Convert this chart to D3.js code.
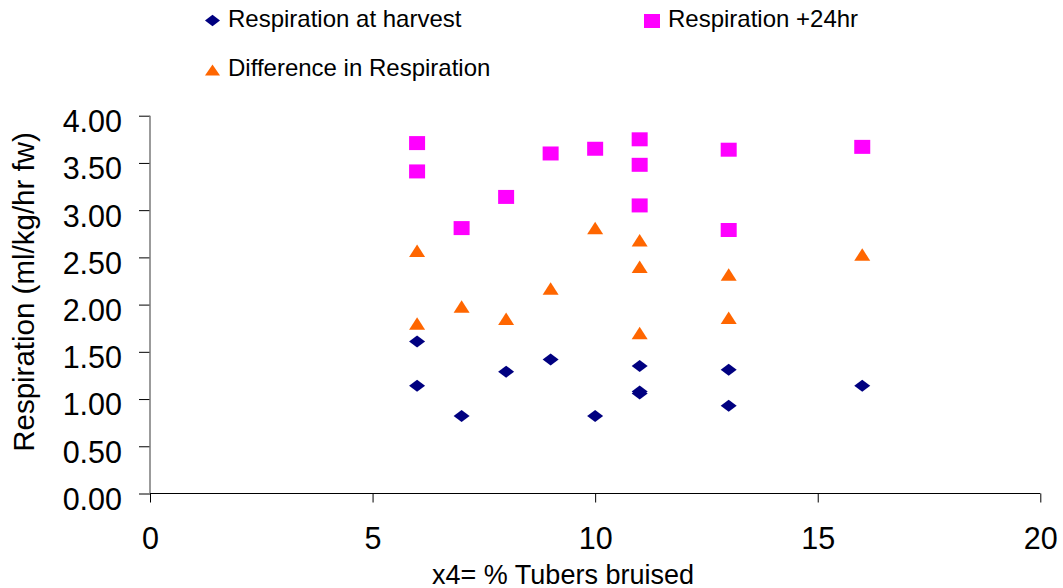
<!DOCTYPE html>
<html>
<head>
<meta charset="utf-8">
<script src="https://cdn.jsdelivr.net/npm/d3@7"></script>
<style>
  html, body { margin: 0; padding: 0; background: #fff; }
  svg { display: block; font-family: "Liberation Sans", Arial, sans-serif; }
</style>
</head>
<body>
<svg id="chart" width="1063" height="588"></svg>
<script>
// % tubers bruised for each sample
const bruised = [6, 6, 7, 8, 9, 10, 11, 11, 11, 13, 13, 16];
// respiration (ml/kg/hr fw) measured at harvest
const atHarvest = [1.14, 1.61, 0.82, 1.29, 1.42, 0.82, 1.06, 1.08, 1.35, 0.93, 1.31, 1.14];
// respiration 24 hours later
const plus24hr = [3.71, 3.41, 2.81, 3.14, 3.60, 3.65, 3.75, 3.48, 3.05, 2.79, 3.64, 3.67];
// difference between the two readings
const difference = [2.57, 1.80, 1.98, 1.85, 2.17, 2.81, 2.68, 2.40, 1.70, 1.86, 2.32, 2.53];

const xTicks = [0, 5, 10, 15, 20];
const yTicks = [0, 0.5, 1, 1.5, 2, 2.5, 3, 3.5, 4];

const seriesNames = ["Respiration at harvest", "Respiration +24hr", "Difference in Respiration"];
const seriesColors = ["#000080", "#FF00FF", "#FF6600"];
const seriesShapes = ["diamond", "square", "triangle"];

const svg = d3.select("#chart");

const x = d3.scaleLinear().domain([0, 20]).range([150, 1040.3]);
const y = d3.scaleLinear().domain([0, 4]).range([493.5, 115.7]);

// marker outlines, relative to the marker centre
function shapePath(kind, w, h) {
  const hw = w / 2, hh = h / 2;
  if (kind === "diamond") return `M0,${-hh}L${hw},0L0,${hh}L${-hw},0Z`;
  if (kind === "square") return `M${-hw},${-hh}H${hw}V${hh}H${-hw}Z`;
  return `M0,${-hh}L${hw},${hh}L${-hw},${hh}Z`;
}
const markerSize = {
  diamond: [16, 12],
  square: [16, 14],
  triangle: [16, 12.5]
};

// y axis
const yAxis = d3.axisLeft(y)
  .tickValues(yTicks)
  .tickSize(11)
  .tickPadding(17)
  .tickFormat(d3.format(".2f"));
const gy = svg.append("g").attr("transform", `translate(${x(0)},0)`).call(yAxis);
gy.select(".domain").remove();
gy.selectAll(".tick line").attr("stroke", "#000").attr("stroke-width", 1);
gy.selectAll(".tick text")
  .attr("font-size", 30.5)
  .attr("fill", "#000")
  .attr("dy", "0.52em");
gy.append("line")
  .attr("x1", 0).attr("x2", 0)
  .attr("y1", y(4)).attr("y2", y(0))
  .attr("stroke", "#7a7a7a").attr("stroke-width", 1.5);

// x axis
const xAxis = d3.axisBottom(x)
  .tickValues(xTicks)
  .tickSize(9)
  .tickFormat(d3.format("d"));
const gx = svg.append("g").attr("transform", `translate(0,${y(0)})`).call(xAxis);
gx.select(".domain").attr("stroke", "#000").attr("d", `M${x(0)},0H${x(20)}`);
gx.selectAll(".tick line").attr("stroke", "#000");
gx.selectAll(".tick text")
  .attr("font-size", 30.5)
  .attr("fill", "#000")
  .attr("y", 55)
  .attr("dy", 0);

// axis titles
svg.append("text")
  .attr("x", 563).attr("y", 583.5)
  .attr("text-anchor", "middle")
  .attr("font-size", 27)
  .attr("fill", "#000")
  .text("x4= % Tubers bruised");

svg.append("text")
  .attr("transform", "translate(33.5,292) rotate(-90)")
  .attr("text-anchor", "middle")
  .attr("font-size", 29.5)
  .attr("fill", "#000")
  .text("Respiration (ml/kg/hr fw)");

// points
const seriesValues = [atHarvest, plus24hr, difference];
seriesValues.forEach((vals, i) => {
  const kind = seriesShapes[i];
  const [w, h] = markerSize[kind];
  svg.append("g")
    .selectAll("path")
    .data(bruised.map((b, j) => ({ b, v: vals[j] })))
    .join("path")
    .attr("d", shapePath(kind, w, h))
    .attr("transform", d => `translate(${x(d.b)},${y(d.v)})`)
    .attr("fill", seriesColors[i]);
});

// legend
const legendItems = [
  { lx: 212.5, ly: 20.5, tx: 228, ty: 26.7 },
  { lx: 652, ly: 21, tx: 668, ty: 26.7 },
  { lx: 212.5, ly: 70, tx: 228, ty: 75.5 }
];
const legend = svg.append("g");
legendItems.forEach((p, i) => {
  const kind = seriesShapes[i];
  const size = kind === "diamond" ? [15, 11.5] : kind === "square" ? [16, 14] : [15, 11];
  legend.append("path")
    .attr("d", shapePath(kind, size[0], size[1]))
    .attr("transform", `translate(${p.lx},${p.ly})`)
    .attr("fill", seriesColors[i]);
  legend.append("text")
    .attr("x", p.tx).attr("y", p.ty)
    .attr("font-size", 24)
    .attr("fill", "#000")
    .text(seriesNames[i]);
});
</script>
</body>
</html>
